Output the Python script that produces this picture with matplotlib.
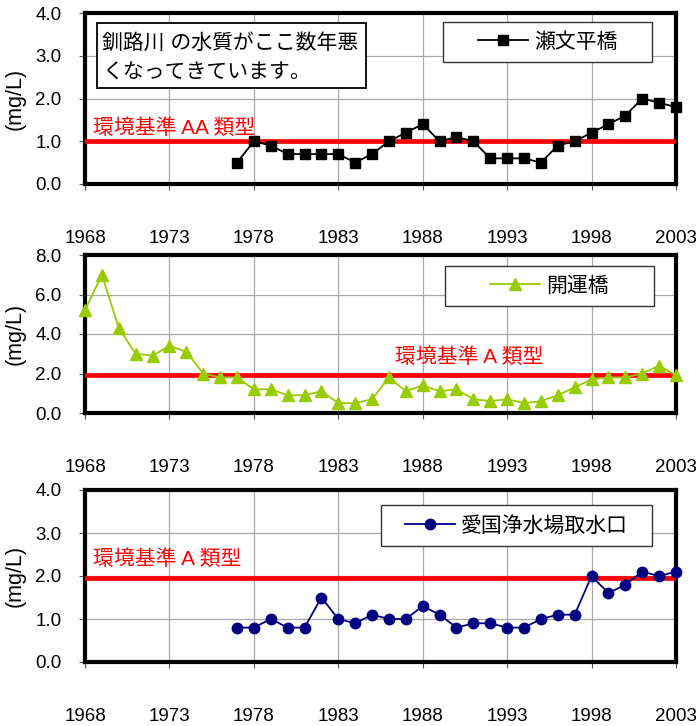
import matplotlib.pyplot as plt
from matplotlib.patches import Rectangle
from matplotlib.lines import Line2D
from matplotlib.ticker import FormatStrFormatter, MultipleLocator

plt.rcParams['font.family'] = ['Liberation Sans', 'Noto Sans CJK JP']

# データ
years_a = list(range(1977, 2004))
years_b = list(range(1968, 2004))
sebun = [0.5, 1.0, 0.9, 0.7, 0.7, 0.7, 0.7, 0.5, 0.7, 1.0, 1.2, 1.4, 1.0, 1.1,
         1.0, 0.6, 0.6, 0.6, 0.5, 0.9, 1.0, 1.2, 1.4, 1.6, 2.0, 1.9, 1.8]
kaiun = [5.2, 7.0, 4.3, 3.0, 2.9, 3.4, 3.1, 2.0, 1.8, 1.8, 1.2, 1.2, 0.9, 0.9,
         1.1, 0.5, 0.5, 0.7, 1.8, 1.1, 1.4, 1.1, 1.2, 0.7, 0.6, 0.7, 0.5, 0.6,
         0.9, 1.3, 1.7, 1.8, 1.8, 2.0, 2.4, 1.9]
aikoku = [0.8, 0.8, 1.0, 0.8, 0.8, 1.5, 1.0, 0.9, 1.1, 1.0, 1.0, 1.3, 1.1, 0.8,
          0.9, 0.9, 0.8, 0.8, 1.0, 1.1, 1.1, 2.0, 1.6, 1.8, 2.1, 2.0, 2.1]
standards = [1.0, 1.9, 1.95]
std_labels = ['環境基準 AA 類型', '環境基準 A 類型', '環境基準 A 類型']
names = ['瀬文平橋', '開運橋', '愛国浄水場取水口']
ymax = [4, 8, 4]
ystep = [1, 2, 1]

W, H = 696, 726
fig = plt.figure(figsize=(W / 100, H / 100), dpi=100)

# パネル位置 (ピクセル: 左, 上, 右, 下)
rects = [(85, 13, 676, 184), (85, 255, 676, 413), (85, 490, 676, 662)]
leg_boxes = [(443, 22, 652, 62), (445, 266, 654, 306), (381, 505, 652, 546)]
std_text_pos = [(93, 128), (395, 357), (93, 559)]

series = [(years_a, sebun, 'black', 's', 7),
          (years_b, kaiun, '#99CC00', '^', 8),
          (years_a, aikoku, '#000080', 'o', 7.5)]


def to_ax(rect, x, y):
    l, t, r, b = rect
    return (x - l) / (r - l), (b - y) / (b - t)


for i in range(3):
    l, t, r, b = rects[i]
    ax = fig.add_axes([l / W, 1 - b / H, (r - l) / W, (b - t) / H])
    xs, ys, col, mk, ms = series[i]

    ax.plot(xs, ys, color=col, marker=mk, markersize=ms, linewidth=1.3,
            clip_on=False, zorder=4)
    ax.axhline(standards[i], color='#FF0000', linewidth=3.4, zorder=3)

    ax.set_xlim(1968, 2003)
    ax.set_ylim(0, ymax[i])
    ax.set_xticks(range(1968, 2004, 5))
    ax.yaxis.set_major_locator(MultipleLocator(ystep[i]))
    ax.yaxis.set_major_formatter(FormatStrFormatter('%.1f'))
    ax.grid(True, color='#a8a8a8', linewidth=0.9, zorder=0)
    ax.set_axisbelow(True)
    for s in ax.spines.values():
        s.set_linewidth(3)
        s.set_color('black')
    ax.tick_params(axis='both', direction='out', length=4, width=0.8,
                   color='#555555', labelsize=13.5)
    ax.tick_params(axis='y', pad=13)
    ax.tick_params(axis='x', pad=29)
    ax.set_ylabel('(mg/L)', fontsize=15.5)
    ax.yaxis.set_label_coords(-0.1, 0.5)

    # 凡例の枠
    lx0, ly0 = to_ax(rects[i], leg_boxes[i][0], leg_boxes[i][3])
    lx1, ly1 = to_ax(rects[i], leg_boxes[i][2], leg_boxes[i][1])
    ax.add_patch(Rectangle((lx0, ly0), lx1 - lx0, ly1 - ly0,
                           transform=ax.transAxes, facecolor='white',
                           edgecolor='#333333', linewidth=1, zorder=6))
    h = Line2D([], [], color=col, marker=mk, markersize=ms, linewidth=1.3)
    leg = ax.legend([h], [names[i]], loc='center', frameon=False,
                    bbox_to_anchor=((lx0 + lx1) / 2, (ly0 + ly1) / 2),
                    fontsize=15, handlelength=2.4, handletextpad=0.3)
    leg.set_zorder(7)

    # 環境基準ラベル
    tx, ty = to_ax(rects[i], *std_text_pos[i])
    ax.text(tx, ty, std_labels[i], transform=ax.transAxes, color='#FF0000',
            fontsize=15, va='center', ha='left', zorder=5)

    if i == 0:
        bx0, by0 = to_ax(rects[i], 97, 88)
        bx1, by1 = to_ax(rects[i], 366, 23)
        ax.add_patch(Rectangle((bx0, by0), bx1 - bx0, by1 - by0,
                               transform=ax.transAxes, facecolor='white',
                               edgecolor='black', linewidth=1.3, zorder=6))
        for line, yy in [('釧路川 の水質がここ数年悪', 43),
                         ('くなってきています。', 73)]:
            tx, ty = to_ax(rects[i], 102, yy)
            ax.text(tx, ty, line, transform=ax.transAxes, fontsize=15,
                    va='center', ha='left', zorder=7)

fig.savefig('out.png', dpi=100)
